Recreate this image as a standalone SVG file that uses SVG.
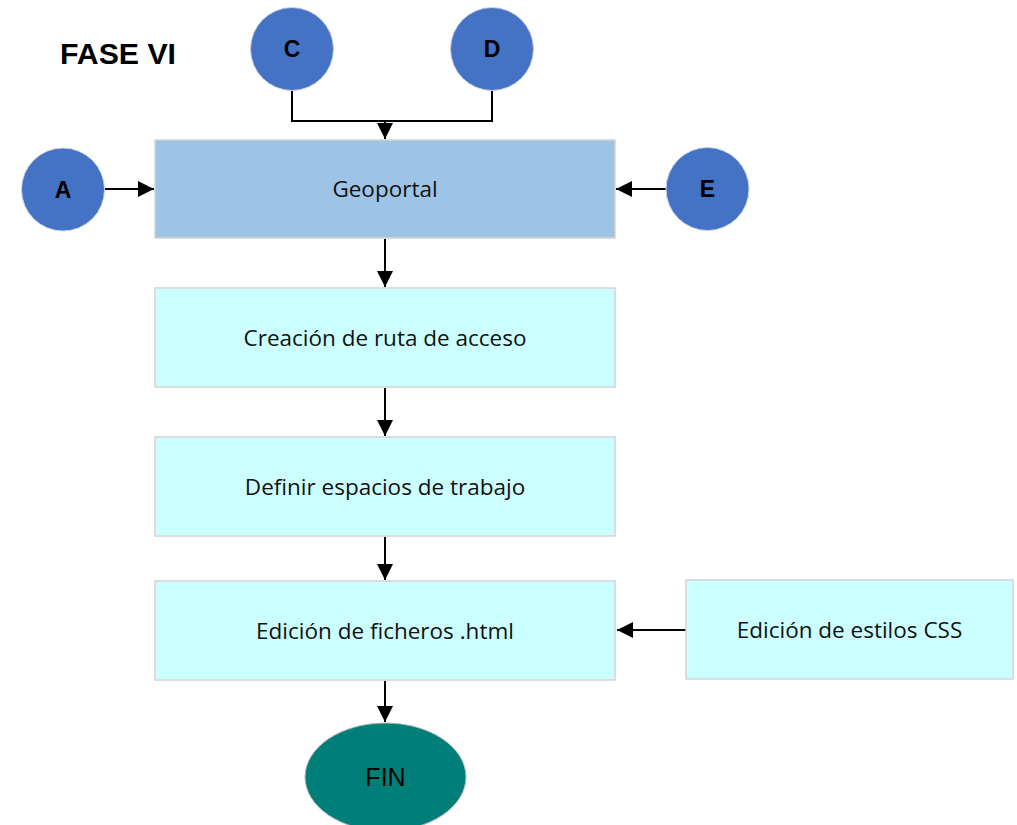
<svg xmlns="http://www.w3.org/2000/svg" width="1017" height="825" viewBox="0 0 1017 825">
<style>
.circ{fill:#4472C4;stroke:#c8d4ea;stroke-width:1}
.box1{fill:#9DC3E6;stroke:#d4d4d4;stroke-width:1.5}
.box2{fill:#CCFFFF;stroke:#d4d4d4;stroke-width:1.5}
.lbl{font-family:"Open Sans","Noto Sans",sans-serif;font-size:22.5px;fill:#111;text-anchor:middle}
.cl{font-family:"Liberation Sans",Arial,sans-serif;font-size:23px;font-weight:bold;fill:#000;text-anchor:middle}
.conn{stroke:#000;stroke-width:2;fill:none}
</style>
<defs>
<marker id="ah" viewBox="0 0 10 10" refX="10" refY="5" markerWidth="8" markerHeight="8" markerUnits="strokeWidth" orient="auto">
<path d="M0,0 L10,5 L0,10 z" fill="#000"/>
</marker>
</defs>
<text x="60" y="64" font-family="'Liberation Sans',Arial,sans-serif" font-size="30" font-weight="bold" fill="#000" textLength="116" lengthAdjust="spacingAndGlyphs">FASE VI</text>
<g id="connectors">
<path class="conn" d="M292,90 V121 H492 V90"/>
<path class="conn" d="M385,121 V139" marker-end="url(#ah)"/>
<path class="conn" d="M105,189 H154" marker-end="url(#ah)"/>
<path class="conn" d="M666,189 H616" marker-end="url(#ah)"/>
<path class="conn" d="M385,239 V287" marker-end="url(#ah)"/>
<path class="conn" d="M385,388 V436" marker-end="url(#ah)"/>
<path class="conn" d="M385,537 V580" marker-end="url(#ah)"/>
<path class="conn" d="M686,630 H617" marker-end="url(#ah)"/>
<path class="conn" d="M385,681 V722" marker-end="url(#ah)"/>
</g>
<g id="nodeC"><ellipse class="circ" cx="292" cy="49" rx="41.5" ry="41.5"/><text class="cl" x="292" y="57">C</text></g>
<g id="nodeD"><ellipse class="circ" cx="492" cy="49" rx="41.5" ry="41.5"/><text class="cl" x="492" y="57">D</text></g>
<g id="nodeA"><ellipse class="circ" cx="63" cy="189.5" rx="41.5" ry="41.5"/><text class="cl" x="63" y="198">A</text></g>
<g id="nodeE"><ellipse class="circ" cx="707.5" cy="189" rx="41.5" ry="41.5"/><text class="cl" x="707.5" y="197">E</text></g>
<g id="geoportal"><rect class="box1" x="155" y="140" width="460" height="98"/><text class="lbl" x="385" y="197">Geoportal</text></g>
<g id="ruta"><rect class="box2" x="155" y="288" width="460" height="99"/><text class="lbl" x="385" y="346">Creación de ruta de acceso</text></g>
<g id="espacios"><rect class="box2" x="155" y="437" width="460" height="99"/><text class="lbl" x="385" y="495">Definir espacios de trabajo</text></g>
<g id="html"><rect class="box2" x="155" y="581" width="460" height="99"/><text class="lbl" x="385" y="639">Edición de ficheros .html</text></g>
<g id="css"><rect class="box2" x="686" y="580" width="327" height="99"/><text class="lbl" x="849.5" y="638">Edición de estilos CSS</text></g>
<g id="fin"><ellipse cx="385.5" cy="777" rx="80.5" ry="54" fill="#007F7A" stroke="#bbb" stroke-width="1"/><text x="385.5" y="786" font-family="'Liberation Sans',Arial,sans-serif" font-size="25" fill="#000" text-anchor="middle">FIN</text></g>
</svg>
